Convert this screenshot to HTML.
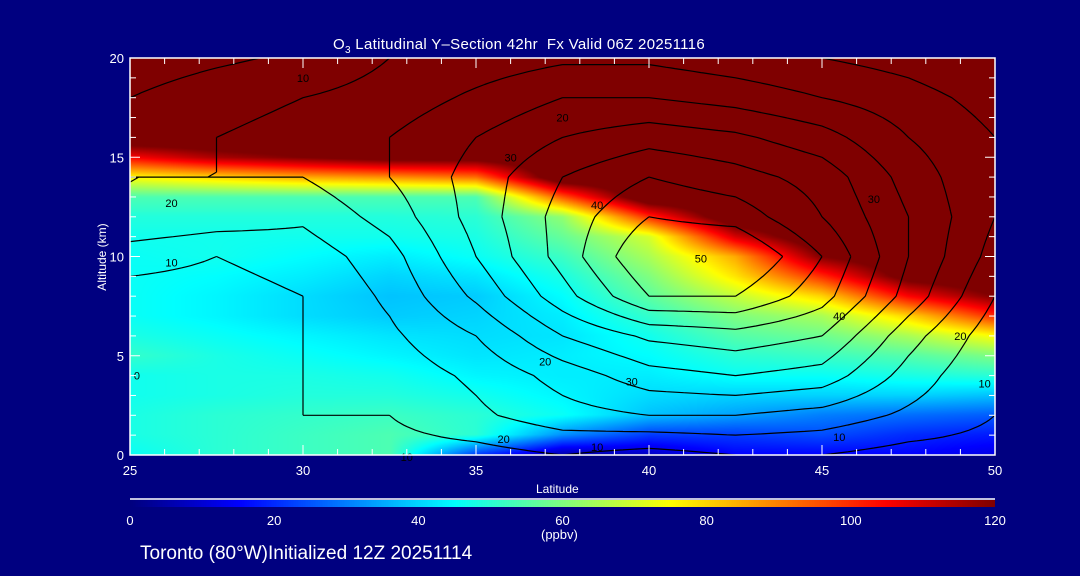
<!DOCTYPE html>
<html><head><meta charset="utf-8">
<style>
body{margin:0;background:#000080;}
#wrap{position:relative;width:1080px;height:576px;background:#000080;overflow:hidden;font-family:"Liberation Sans",sans-serif;color:#fff;}
.t{position:absolute;color:#fff;white-space:nowrap;}
</style></head>
<body>
<div id="wrap">
<div class="t" style="left:333px;top:36px;font-size:15px;letter-spacing:0.3px;">O<sub style="font-size:10px">3</sub> Latitudinal Y&#8211;Section 42hr&nbsp; Fx Valid 06Z 20251116</div>
<canvas id="cv" width="865" height="397" style="position:absolute;left:130px;top:58px;"></canvas>
<svg id="sv" width="1080" height="576" style="position:absolute;left:0;top:0;"></svg>
<div class="t" style="left:52px;top:250px;font-size:12px;transform:rotate(-90deg);transform-origin:center;width:100px;text-align:center;">Altitude (km)</div>
<div class="t" style="left:536px;top:482px;font-size:12px;">Latitude</div>
<canvas id="cb" width="865" height="7" style="position:absolute;left:130px;top:500px;"></canvas>
<div class="t" style="left:541px;top:527px;font-size:13px;">(ppbv)</div>
<div class="t" style="left:140px;top:543px;font-size:19px;">Toronto (80°W)Initialized 12Z 20251114</div>
</div>
<script>
const lats=[25,27.5,30,32.5,35,37.5,40,42.5,45,47.5,50];
const altsColor=[20,19,18,17,16,15,14,13,12,11,10,9,8,7,6,5,4,3,2,1,0];
const o3=[
[130,130,130,130,130,130,130,130,130,130,130],
[130,130,130,130,130,130,130,130,130,130,130],
[130,130,130,130,130,130,130,130,130,130,130],
[130,130,130,130,130,130,130,130,130,130,130],
[130,130,130,130,130,130,130,130,130,130,130],
[105,115,120,125,125,130,130,130,130,130,130],
[75,80,85,88,92,130,130,130,130,130,130],
[54,54,54,54,54,95,130,130,130,130,130],
[49,49,49,49,50,62,100,130,130,130,130],
[47,47,47,47,48,57,70,110,130,130,130],
[46,47,45,43,46,52,65,85,120,130,130],
[46,45,43,40,42,48,60,78,100,125,130],
[46,44,41,38,39,45,56,68,80,105,120],
[46,44,41,39,40,43,51,60,65,80,100],
[48,46,44,42,41,42,47,55,58,65,75],
[51,48,46,44,42,43,45,50,52,55,60],
[47,48,48,47,44,43,43,46,46,48,50],
[47,48,49,49,47,44,41,40,40,40,38],
[48,50,51,52,50,46,38,34,30,28,26],
[48,50,52,54,50,32,22,22,24,20,18],
[46,50,52,54,22,5,8,15,15,15,12]];
const altsCont=[20,18,16,14,12,10,8,6,4,2,0];
const cont=[
[12,14,16,20,22,24,24,22,20,18,15],
[15,18,20,22,26,30,30,28,25,22,18],
[18,20,22,25,30,35,38,36,32,25,20],
[20,20,20,25,32,40,45,42,38,28,20],
[20,18,16,22,32,42,50,48,40,30,20],
[12,10,12,18,30,42,55,56,45,30,18],
[8,8,10,16,26,38,50,50,42,28,15],
[5,8,10,14,20,30,36,38,35,22,12],
[4,8,10,12,16,22,28,30,28,18,10],
[6,8,10,10,14,18,20,20,18,14,10],
[8,8,8,8,8,10,8,10,10,8,8]];
const levels=[10,15,20,25,30,35,40,45,50];
const xTicks=[25,30,35,40,45,50];
const yTicks=[0,5,10,15,20];
const cbTicks=[0,20,40,60,80,100,120];

const X0=130,X1=995,Y0=455,Y1=58;
const xs=l=>X0+(l-25)/25*(X1-X0);
const ys=a=>Y0-(a)/20*(Y0-Y1);
const jet=[[0,0,0,127],[0.125,0,0,255],[0.375,0,255,255],[0.625,255,255,0],[0.875,255,0,0],[1,127,0,0]];
function cmap(v){let t=Math.max(0,Math.min(1,v/120));for(let i=1;i<jet.length;i++){if(t<=jet[i][0]){const a=jet[i-1],b=jet[i],f=(t-a[0])/(b[0]-a[0]);return [a[1]+f*(b[1]-a[1]),a[2]+f*(b[2]-a[2]),a[3]+f*(b[3]-a[3])];}}return [127,0,0];}
function sample(grid,alts,lat,alt){
  let fi=(lat-25)/2.5;fi=Math.max(0,Math.min(lats.length-1.0001,fi));
  const step=alts[0]-alts[1];let fj=(alts[0]-alt)/step;fj=Math.max(0,Math.min(alts.length-1.0001,fj));
  const i=Math.floor(fi),j=Math.floor(fj),u=fi-i,w=fj-j;
  return grid[j][i]*(1-u)*(1-w)+grid[j][i+1]*u*(1-w)+grid[j+1][i]*(1-u)*w+grid[j+1][i+1]*u*w;
}
const cv=document.getElementById('cv'),ctx=cv.getContext('2d');
const img=ctx.createImageData(cv.width,cv.height);
for(let py=0;py<cv.height;py++){const alt=20-py/(cv.height-1)*20;
 for(let px=0;px<cv.width;px++){const lat=25+px/(cv.width-1)*25;
  const c=cmap(sample(o3,altsColor,lat,alt));const k=(py*cv.width+px)*4;
  img.data[k]=c[0];img.data[k+1]=c[1];img.data[k+2]=c[2];img.data[k+3]=255;}}
ctx.putImageData(img,0,0);
const cb=document.getElementById('cb'),cbx=cb.getContext('2d');
for(let px=0;px<cb.width;px++){const c=cmap(px/(cb.width-1)*120);cbx.fillStyle=`rgb(${c[0]|0},${c[1]|0},${c[2]|0})`;cbx.fillRect(px,0,1,7);}
const NS='http://www.w3.org/2000/svg',sv=document.getElementById('sv');
function mk(tag,at,name){const e=document.createElementNS(NS,tag);for(const k in at)e.setAttribute(k,at[k]);
 
 
 sv.appendChild(e);return e;}
const NX=100,NY=80;const F=[];
for(let j=0;j<=NY;j++){F.push([]);for(let i=0;i<=NX;i++)F[j].push(sample(cont,altsCont,25+i/NX*25,20-j/NY*20));}
const px=i=>X0+i/NX*(X1-X0),py=j=>Y1+j/NY*(Y0-Y1);
levels.forEach(L=>{let d='';
 for(let j=0;j<NY;j++)for(let i=0;i<NX;i++){
  const v=[F[j][i],F[j][i+1],F[j+1][i+1],F[j+1][i]];
  const P=[[i,j],[i+1,j],[i+1,j+1],[i,j+1]];const pts=[];
  for(let e=0;e<4;e++){const a=v[e],b=v[(e+1)%4];if((a<L)!==(b<L)){const f=(L-a)/(b-a);const A=P[e],B=P[(e+1)%4];pts.push([px(A[0]+f*(B[0]-A[0])),py(A[1]+f*(B[1]-A[1]))]);}}
  if(pts.length>=2)d+=`M${pts[0][0].toFixed(1)} ${pts[0][1].toFixed(1)}L${pts[1][0].toFixed(1)} ${pts[1][1].toFixed(1)}`;
  if(pts.length===4)d+=`M${pts[2][0].toFixed(1)} ${pts[2][1].toFixed(1)}L${pts[3][0].toFixed(1)} ${pts[3][1].toFixed(1)}`;}
 mk('path',{d:d,stroke:'#000',fill:'none','stroke-width':1.2},'contour-'+L);
});
[[30,19,'10'],[37.5,17,'20'],[36,15,'30'],[38.5,12.6,'40'],[41.5,9.9,'50'],[45.5,7,'40'],[46.5,12.9,'30'],[49,6,'20'],[37,4.7,'20'],[39.5,3.7,'30'],[26.2,9.7,'10'],[26.2,12.7,'20'],[25.2,4,'0'],[49.7,3.6,'10'],[45.5,0.9,'10'],[38.5,0.4,'10'],[35.8,0.8,'20'],[33,-0.1,'10']].forEach(l=>{
 mk('text',{x:xs(l[0]),y:ys(l[1])+4,'font-size':11,fill:'#000','text-anchor':'middle','font-family':'Liberation Sans, sans-serif'},'contour-label').textContent=l[2];});
mk('rect',{x:X0,y:Y1,width:X1-X0,height:Y0-Y1,fill:'none',stroke:'#fff','stroke-width':1.5},'plot-frame');
for(let l=25;l<=50;l+=1){const x=xs(l);mk('line',{x1:x,x2:x,y1:Y0,y2:Y0-(l%5?6:10),stroke:'#fff'},'x-tick');mk('line',{x1:x,x2:x,y1:Y1,y2:Y1+(l%5?6:10),stroke:'#fff'},'x-tick-top');}
for(let a=0;a<=20;a+=1){const y=ys(a);mk('line',{x1:X0,x2:X0+(a%5?6:10),y1:y,y2:y,stroke:'#fff'},'y-tick');mk('line',{x1:X1,x2:X1-(a%5?6:10),y1:y,y2:y,stroke:'#fff'},'y-tick-right');}
xTicks.forEach(l=>{mk('text',{x:xs(l),y:Y0+20,'font-size':13,fill:'#fff','text-anchor':'middle','font-family':'Liberation Sans, sans-serif'},'x-tick-label').textContent=l;});
yTicks.forEach(a=>{mk('text',{x:X0-6,y:ys(a)+5,'font-size':13,fill:'#fff','text-anchor':'end','font-family':'Liberation Sans, sans-serif'},'y-tick-label').textContent=a;});
mk('line',{x1:X0,x2:X1,y1:499,y2:499,stroke:'#fff','stroke-width':1.5},'colorbar-line');
cbTicks.forEach(v=>{mk('text',{x:X0+v/120*(X1-X0),y:525,'font-size':13,fill:'#fff','text-anchor':'middle','font-family':'Liberation Sans, sans-serif'},'colorbar-tick-label').textContent=v;});
</script>
</body></html>
